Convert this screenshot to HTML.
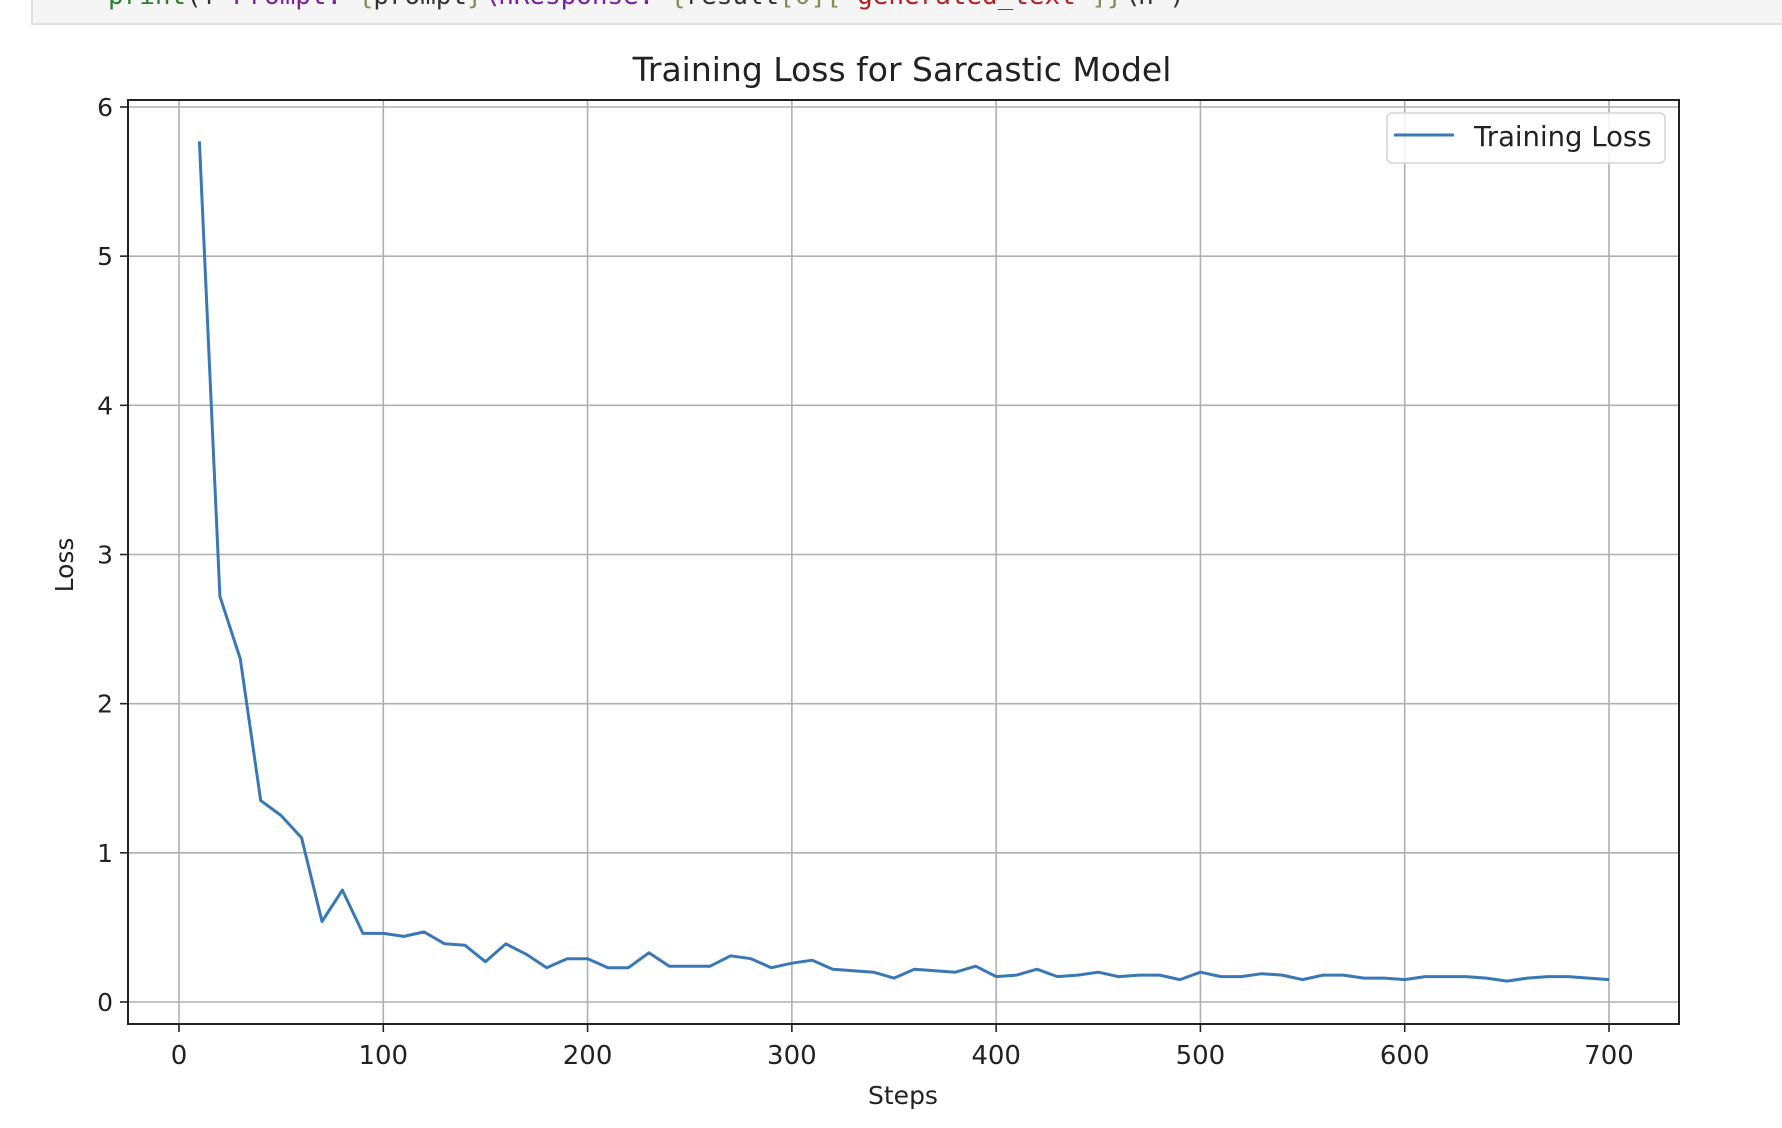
<!DOCTYPE html>
<html><head><meta charset="utf-8"><style>
html,body{margin:0;padding:0;background:#fff;width:1782px;height:1128px;overflow:hidden}
svg{display:block}
text{font-family:"DejaVu Sans","Liberation Sans",sans-serif;fill:#222}
</style></head><body>
<svg width="1782" height="1128" viewBox="0 0 1782 1128">
<g>
<rect x="32" y="-2" width="1760" height="26" fill="#f5f5f5" stroke="#e0e0e0" stroke-width="2"/>
<text x="108" y="4" font-size="26" style="font-family:'DejaVu Sans Mono','Liberation Mono',monospace" textLength="1077"><tspan fill="#2e7d32">print</tspan><tspan fill="#333">(f"</tspan><tspan fill="#7b1fa2">Prompt: </tspan><tspan fill="#8a8a5a">{</tspan><tspan fill="#333">prompt</tspan><tspan fill="#8a8a5a">}</tspan><tspan fill="#7b1fa2">\nResponse: </tspan><tspan fill="#8a8a5a">{</tspan><tspan fill="#333">result</tspan><tspan fill="#8a8a5a">[0][</tspan><tspan fill="#b22222">'generated_text'</tspan><tspan fill="#8a8a5a">]}</tspan><tspan fill="#333">\n")</tspan></text>
</g>
<g id="plot"></g>
<text x="902" y="81" text-anchor="middle" font-size="33">Training Loss for Sarcastic Model</text>
<text x="903" y="1104" text-anchor="middle" font-size="25">Steps</text>
<text x="0" y="0" text-anchor="middle" font-size="25" transform="translate(73,565) rotate(-90)">Loss</text>
</svg>
<script>
const steps=[10,20,30,40,50,60,70,80,90,100,110,120,130,140,150,160,170,180,190,200,210,220,230,240,250,260,270,280,290,300,310,320,330,340,350,360,370,380,390,400,410,420,430,440,450,460,470,480,490,500,510,520,530,540,550,560,570,580,590,600,610,620,630,640,650,660,670,680,690,700];
const loss=[5.77,2.72,2.3,1.35,1.25,1.1,0.54,0.75,0.46,0.46,0.44,0.47,0.39,0.38,0.27,0.39,0.32,0.23,0.29,0.29,0.23,0.23,0.33,0.24,0.24,0.24,0.31,0.29,0.23,0.26,0.28,0.22,0.21,0.2,0.16,0.22,0.21,0.2,0.24,0.17,0.18,0.22,0.17,0.18,0.2,0.17,0.18,0.18,0.15,0.2,0.17,0.17,0.19,0.18,0.15,0.18,0.18,0.16,0.16,0.15,0.17,0.17,0.17,0.16,0.14,0.16,0.17,0.17,0.16,0.15];
const xTicks=[0,100,200,300,400,500,600,700];
const yTicks=[0,1,2,3,4,5,6];
const seriesName="Training Loss";

const NS="http://www.w3.org/2000/svg";
const L=128,R=1679,T=100,B=1024;
const x=v=>179+v*(1609-179)/700;
const y=v=>1002-v*(1002-107)/6;
const g=document.getElementById('plot');
function mk(tag,attrs,parent){const e=document.createElementNS(NS,tag);for(const k in attrs)e.setAttribute(k,attrs[k]);(parent||g).appendChild(e);return e;}

xTicks.forEach(t=>{
  const gl=mk('line',{x1:x(t),x2:x(t),y1:T,y2:B,stroke:'#b0b0b0','stroke-width':1.6});
  
  
  const tk=mk('line',{x1:x(t),x2:x(t),y1:B,y2:B+8,stroke:'#222','stroke-width':1.6});
  
  
  const lb=mk('text',{x:x(t),y:B+40,'text-anchor':'middle','font-size':26});
  lb.textContent=t;
  
  
});
yTicks.forEach(t=>{
  const gl=mk('line',{x1:L,x2:R,y1:y(t),y2:y(t),stroke:'#b0b0b0','stroke-width':1.6});
  
  
  const tk=mk('line',{x1:L-8,x2:L,y1:y(t),y2:y(t),stroke:'#222','stroke-width':1.6});
  
  
  const lb=mk('text',{x:L-15,y:y(t)+9,'text-anchor':'end','font-size':25});
  lb.textContent=t;
  
  
});
const frame=mk('rect',{x:L,y:T,width:R-L,height:B-T,fill:'none',stroke:'#222','stroke-width':2});



const pts=steps.map((s,i)=>x(s).toFixed(1)+','+y(loss[i]).toFixed(1)).join(' ');
const line=mk('polyline',{points:pts,fill:'none',stroke:'#3a78b5','stroke-width':3,'stroke-linejoin':'round'});



const lg=mk('g',{});


mk('rect',{x:1387,y:113,width:278,height:50,rx:5,fill:'#fff','fill-opacity':0.85,stroke:'#d6d6d6','stroke-width':1.6},lg);
const ll=mk('line',{x1:1394,x2:1454,y1:135,y2:135,stroke:'#3a78b5','stroke-width':3},lg);


const lt=mk('text',{x:1474,y:146,'font-size':27.5},lg);
lt.textContent=seriesName;


</script>
</body></html>
